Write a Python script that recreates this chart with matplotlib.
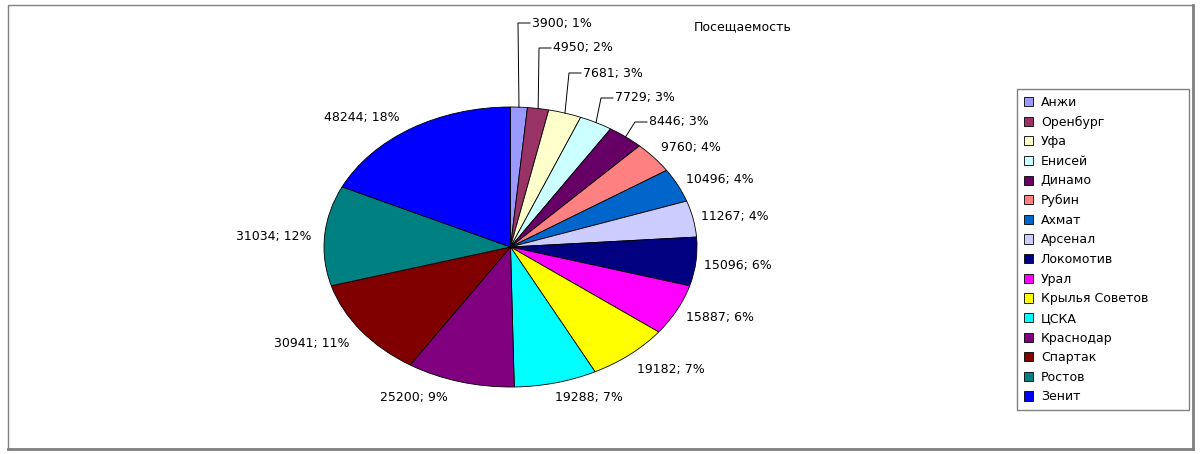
import numpy as np
import matplotlib.pyplot as plt
from matplotlib.patches import Rectangle
from matplotlib.lines import Line2D

teams = ["Анжи", "Оренбург", "Уфа", "Енисей", "Динамо", "Рубин", "Ахмат", "Арсенал",
         "Локомотив", "Урал", "Крылья Советов", "ЦСКА", "Краснодар", "Спартак", "Ростов", "Зенит"]
attendance = [3900, 4950, 7681, 7729, 8446, 9760, 10496, 11267,
              15096, 15887, 19182, 19288, 25200, 30941, 31034, 48244]
colors = ["#9999FF", "#993366", "#FFFFCC", "#CCFFFF", "#660066", "#FF8080", "#0066CC", "#CCCCFF",
          "#000080", "#FF00FF", "#FFFF00", "#00FFFF", "#800080", "#800000", "#008080", "#0000FF"]
title = "Посещаемость"

# label anchors in pixels (x, y, ha); first five get leader lines
label_pos = [(532, 23, "left"), (553, 48, "left"), (583, 73, "left"), (615, 98, "left"),
             (649, 122, "left"), (661, 147, "left"), (686, 179, "left"), (701, 217, "left"),
             (704, 265, "left"), (686, 317, "left"), (637, 369, "left"), (589, 398, "center"),
             (414, 398, "center"), (349, 343, "right"), (312, 237, "right"), (400, 117, "right")]
n_leaders = 5

W, H = 1200, 454
CX, CY, RX, RY = 510.5, 247, 186.5, 140   # ellipse centre / radii in pixels


def px(x, y):
    return (x - CX) / RX, (CY - y) / RY


plt.rcParams['font.family'] = ['DejaVu Sans']
fig = plt.figure(figsize=(W / 100, H / 100), dpi=100)
ax = fig.add_axes([0, 0, 1, 1])

wedges, _ = ax.pie(attendance, colors=colors, startangle=90, counterclock=False,
                   wedgeprops=dict(edgecolor="black", linewidth=0.6))
ax.set_aspect("auto")
ax.set_xlim(px(0, 0)[0], px(W, 0)[0])
ax.set_ylim(px(0, H)[1], px(0, 0)[1])
ax.axis("off")

total = sum(attendance)
for i, (w, v) in enumerate(zip(wedges, attendance)):
    x, y, ha = label_pos[i]
    tx, ty = px(x, y)
    ax.text(tx, ty, "%d; %d%%" % (v, round(v / total * 100)), ha=ha, va="center",
            fontsize=9, color="black")
    if i < n_leaders:
        th = np.deg2rad((w.theta1 + w.theta2) / 2)
        bx, by = px(x - 14, y)
        ex, ey = px(x - 2, y)
        ax.plot([np.cos(th), bx, ex], [np.sin(th), by, ey], color="black", lw=0.7)

fig.text(743 / W, 1 - 27 / H, title, ha="center", va="center", fontsize=9)

leg = ax.legend(wedges, teams, loc="upper left",
                bbox_to_anchor=(1017 / W, 1 - 404 / H, 172 / W, 315 / H),
                bbox_transform=fig.transFigure, mode="expand",
                fancybox=False, edgecolor="#808080", framealpha=1,
                borderaxespad=0, borderpad=0.55, labelspacing=0.53,
                handlelength=0.75, handleheight=0.75, handletextpad=0.6, fontsize=9)
leg.get_frame().set_linewidth(1)

fig.patches.append(Rectangle((8 / W, 5 / H), 1185 / W, 444 / H, transform=fig.transFigure,
                             fill=False, edgecolor="#808080", lw=1))
fig.lines.append(Line2D([1193 / W, 1193 / W], [5 / H, 449 / H], transform=fig.transFigure,
                        color="#808080", lw=2))
fig.lines.append(Line2D([8 / W, 1193 / W], [5 / H, 5 / H], transform=fig.transFigure,
                        color="#808080", lw=2))

fig.savefig("out.png", dpi=100)
